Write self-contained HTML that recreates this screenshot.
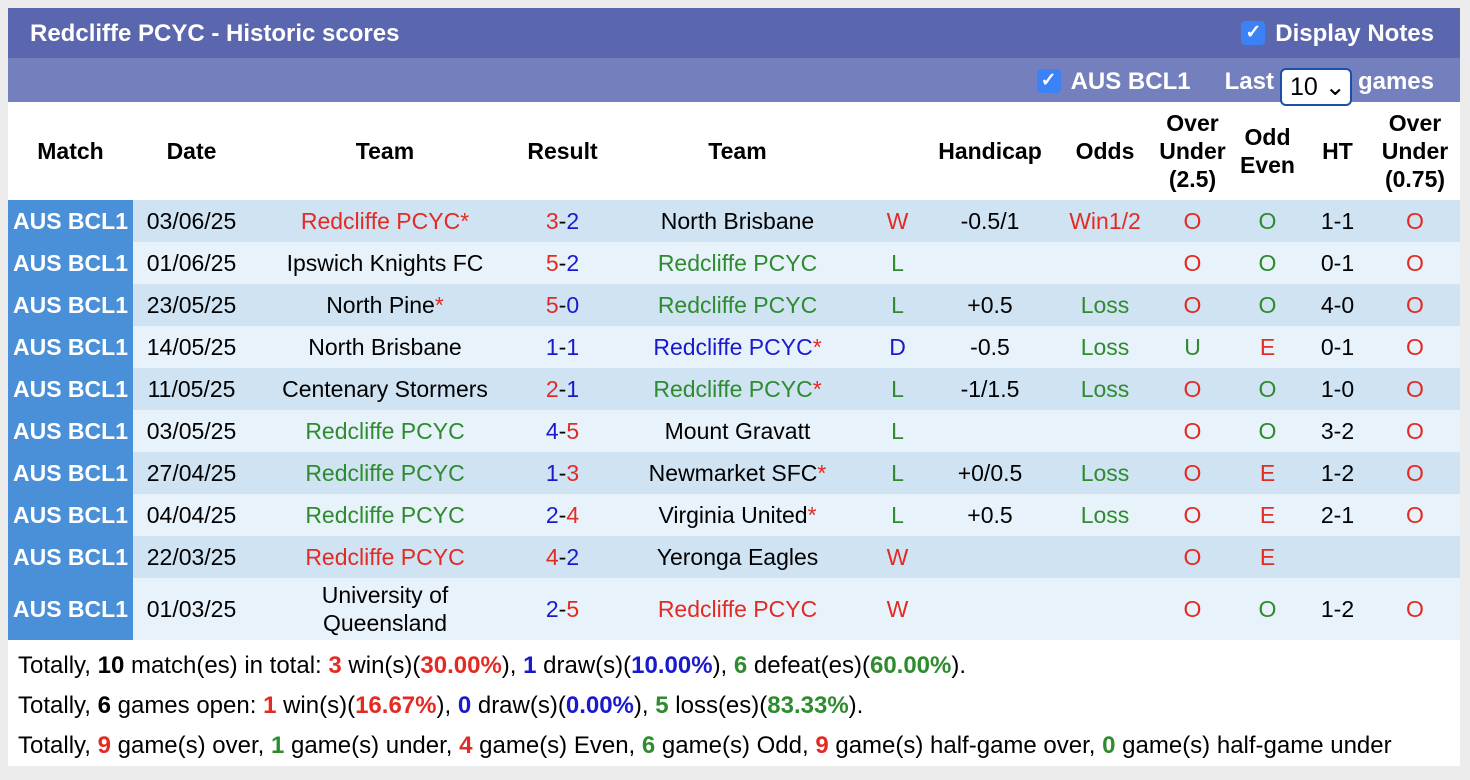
<!DOCTYPE html>
<html><head><meta charset="utf-8"><style>
body{margin:0;background:#ececec;font-family:"Liberation Sans",Arial,sans-serif;width:1470px;height:780px;overflow:hidden}
#wrap{position:absolute;left:8px;top:8px;width:1452px;height:758px;background:#fff}
#title{height:50px;background:#5a67ae;color:#fff;font-weight:bold;font-size:24px;position:relative}
#title .t{position:absolute;left:22px;top:12px}
#title .dn{position:absolute;right:26px;top:12px;font-size:24px}
#sub{height:44px;background:#7480be;color:#fff;font-weight:bold;font-size:24px;position:relative}
.cb{display:inline-block;width:24px;height:24px;background:#3b82f6;border-radius:4px;color:#fff;font-size:19px;text-align:center;line-height:24px;vertical-align:3px;margin-right:10px}
#sub .r{position:absolute;right:26px;top:10px}
.sel{display:inline-block;background:#fff;color:#000;font-weight:normal;border:2px solid #1d4fa8;border-radius:6px;width:72px;height:38px;line-height:34px;padding-left:8px;box-sizing:border-box;margin:0 6px;font-size:25px;vertical-align:-6px}
table{border-collapse:collapse;table-layout:fixed;position:absolute;left:0;top:94px;width:1452px;font-size:23px}
th{height:96px;font-weight:bold;line-height:28px}
td{height:42px;text-align:center;padding:0;white-space:nowrap}
td.m{background:#4a90d9;color:#fff;font-weight:bold;font-size:23px}
tr.a td:not(.m){background:#cfe3f3}
tr.b td:not(.m){background:#e8f2fa}
.r1{color:#e32b23}.g{color:#2e8b2e}.bl{color:#1a1acc}
#foot{position:absolute;left:10px;top:638px;font-size:24px;line-height:40px}
</style></head><body>
<div id="wrap">
<div id="title"><span class="t">Redcliffe PCYC - Historic scores</span><span class="dn"><span class="cb">✓</span>Display Notes</span></div>
<div id="sub"><span class="r"><span><span class="cb">✓</span>AUS BCL1</span><span style="margin-left:34px">Last</span><span class="sel">10 ⌄</span>games</span></div>
<table>
<colgroup><col style="width:125px"><col style="width:117px"><col style="width:270px"><col style="width:85px"><col style="width:265px"><col style="width:55px"><col style="width:130px"><col style="width:100px"><col style="width:75px"><col style="width:75px"><col style="width:65px"><col style="width:90px"></colgroup>
<tr><th>Match</th><th>Date</th><th>Team</th><th>Result</th><th>Team</th><th></th><th>Handicap</th><th>Odds</th><th>Over<br>Under<br>(2.5)</th><th>Odd<br>Even</th><th>HT</th><th>Over<br>Under<br>(0.75)</th></tr>
<tr class="a"><td class="m">AUS BCL1</td><td>03/06/25</td><td class="r1">Redcliffe PCYC*</td><td><span class="r1">3</span>-<span class="bl">2</span></td><td>North Brisbane</td><td class="r1">W</td><td>-0.5/1</td><td class="r1">Win1/2</td><td class="r1">O</td><td class="g">O</td><td>1-1</td><td class="r1">O</td></tr>
<tr class="b"><td class="m">AUS BCL1</td><td>01/06/25</td><td>Ipswich Knights FC</td><td><span class="r1">5</span>-<span class="bl">2</span></td><td class="g">Redcliffe PCYC</td><td class="g">L</td><td></td><td></td><td class="r1">O</td><td class="g">O</td><td>0-1</td><td class="r1">O</td></tr>
<tr class="a"><td class="m">AUS BCL1</td><td>23/05/25</td><td>North Pine<span class="r1">*</span></td><td><span class="r1">5</span>-<span class="bl">0</span></td><td class="g">Redcliffe PCYC</td><td class="g">L</td><td>+0.5</td><td class="g">Loss</td><td class="r1">O</td><td class="g">O</td><td>4-0</td><td class="r1">O</td></tr>
<tr class="b"><td class="m">AUS BCL1</td><td>14/05/25</td><td>North Brisbane</td><td><span class="bl">1</span>-<span class="bl">1</span></td><td class="bl">Redcliffe PCYC<span class="r1">*</span></td><td class="bl">D</td><td>-0.5</td><td class="g">Loss</td><td class="g">U</td><td class="r1">E</td><td>0-1</td><td class="r1">O</td></tr>
<tr class="a"><td class="m">AUS BCL1</td><td>11/05/25</td><td>Centenary Stormers</td><td><span class="r1">2</span>-<span class="bl">1</span></td><td class="g">Redcliffe PCYC<span class="r1">*</span></td><td class="g">L</td><td>-1/1.5</td><td class="g">Loss</td><td class="r1">O</td><td class="g">O</td><td>1-0</td><td class="r1">O</td></tr>
<tr class="b"><td class="m">AUS BCL1</td><td>03/05/25</td><td class="g">Redcliffe PCYC</td><td><span class="bl">4</span>-<span class="r1">5</span></td><td>Mount Gravatt</td><td class="g">L</td><td></td><td></td><td class="r1">O</td><td class="g">O</td><td>3-2</td><td class="r1">O</td></tr>
<tr class="a"><td class="m">AUS BCL1</td><td>27/04/25</td><td class="g">Redcliffe PCYC</td><td><span class="bl">1</span>-<span class="r1">3</span></td><td>Newmarket SFC<span class="r1">*</span></td><td class="g">L</td><td>+0/0.5</td><td class="g">Loss</td><td class="r1">O</td><td class="r1">E</td><td>1-2</td><td class="r1">O</td></tr>
<tr class="b"><td class="m">AUS BCL1</td><td>04/04/25</td><td class="g">Redcliffe PCYC</td><td><span class="bl">2</span>-<span class="r1">4</span></td><td>Virginia United<span class="r1">*</span></td><td class="g">L</td><td>+0.5</td><td class="g">Loss</td><td class="r1">O</td><td class="r1">E</td><td>2-1</td><td class="r1">O</td></tr>
<tr class="a"><td class="m">AUS BCL1</td><td>22/03/25</td><td class="r1">Redcliffe PCYC</td><td><span class="r1">4</span>-<span class="bl">2</span></td><td>Yeronga Eagles</td><td class="r1">W</td><td></td><td></td><td class="r1">O</td><td class="r1">E</td><td></td><td></td></tr>
<tr class="b"><td class="m" style="height:62px">AUS BCL1</td><td>01/03/25</td><td style="white-space:normal;line-height:28px">University of<br>Queensland</td><td><span class="bl">2</span>-<span class="r1">5</span></td><td class="r1">Redcliffe PCYC</td><td class="r1">W</td><td></td><td></td><td class="r1">O</td><td class="g">O</td><td>1-2</td><td class="r1">O</td></tr>
</table>
<div id="foot">
<div>Totally, <b>10</b> match(es) in total: <b class="r1">3</b> win(s)(<b class="r1">30.00%</b>), <b class="bl">1</b> draw(s)(<b class="bl">10.00%</b>), <b class="g">6</b> defeat(es)(<b class="g">60.00%</b>).</div>
<div>Totally, <b>6</b> games open: <b class="r1">1</b> win(s)(<b class="r1">16.67%</b>), <b class="bl">0</b> draw(s)(<b class="bl">0.00%</b>), <b class="g">5</b> loss(es)(<b class="g">83.33%</b>).</div>
<div>Totally, <b class="r1">9</b> game(s) over, <b class="g">1</b> game(s) under, <b class="r1">4</b> game(s) Even, <b class="g">6</b> game(s) Odd, <b class="r1">9</b> game(s) half-game over, <b class="g">0</b> game(s) half-game under</div>
</div>
</div>
</body></html>
